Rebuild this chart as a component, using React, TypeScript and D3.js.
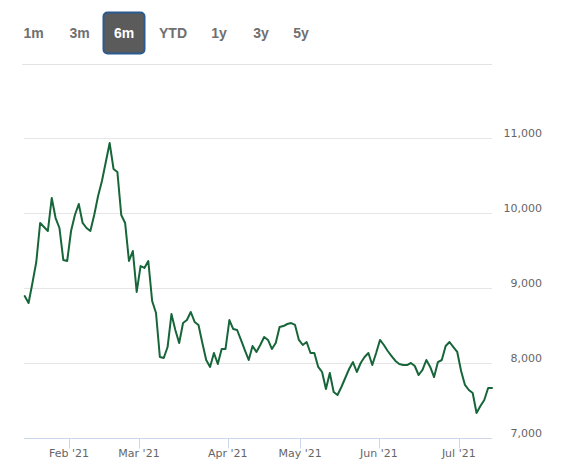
import React from "react";
import * as d3 from "d3";

const values: number[] = [
  8893, 8800, 9067, 9347, 9867, 9813, 9760, 10200, 9933, 9800,
  9373, 9360, 9760, 9973, 10120, 9867, 9800, 9760, 9973, 10227,
  10427, 10680, 10933, 10587, 10547, 9973, 9867, 9360, 9493, 8947,
  9293, 9267, 9360, 8827, 8667, 8080, 8067, 8213, 8653, 8440,
  8267, 8533, 8573, 8680, 8547, 8507, 8267, 8040, 7947, 8133,
  7987, 8187, 8187, 8573, 8453, 8440, 8307, 8173, 8040, 8227,
  8147, 8240, 8347, 8307, 8187, 8267, 8480, 8493, 8520, 8533,
  8507, 8307, 8240, 8280, 8133, 8133, 7947, 7880, 7653, 7867,
  7613, 7573, 7680, 7800, 7920, 8013, 7880, 8000, 8080, 8133,
  7973, 8133, 8307, 8240, 8160, 8093, 8027, 7987, 7973, 7973,
  8000, 7960, 7840, 7907, 8040, 7947, 7813, 8013, 8040, 8227,
  8280, 8213, 8147, 7893, 7707, 7640, 7600, 7333, 7427, 7507,
  7667, 7667,
];

const xTickIndex: number[] = [11.5, 29.6, 52.6, 71.3, 91.7, 112.4];
const xTickLabels: string[] = ["Feb '21", "Mar '21", "Apr '21", "May '21", "Jun '21", "Jul '21"];
const yTicks: number[] = [7000, 8000, 9000, 10000, 11000];
const rangeButtons: string[] = ["1m", "3m", "6m", "YTD", "1y", "3y", "5y"];
const selectedButton = "6m";

const W = 562;
const H = 473;
const plotLeft = 24.7;
const plotRight = 492;
const buttonCenters = [33.5, 79.5, 124, 173, 219, 261, 301];

export default function App() {
  const x = d3.scaleLinear().domain([0, values.length - 1]).range([plotLeft, plotRight]);
  const y = d3.scaleLinear().domain([7000, 11000]).range([438, 138]);
  const line = d3
    .line<number>()
    .x((_, i) => x(i))
    .y((d) => y(d));
  const gridColor = "#e6e6e6";
  const axisColor = "#ccd6eb";
  const labelColor = "#666666";
  const font = "'DejaVu Sans', sans-serif";

  return (
    <svg
      width={W}
      height={H}
      style={{ position: "absolute", left: 0, top: 0, background: "#fff" }}
    >
      <rect x={0} y={0} width={W} height={H} fill="#fff" />
      {rangeButtons.map((b, i) => {
        const cx = buttonCenters[i];
        const sel = b === selectedButton;
        return (
          <g key={b}>
            {sel && (
              <rect
                x={cx - 20.5}
                y={12.5}
                width={41}
                height={41}
                rx={4}
                fill="#5b5b5b"
                stroke="#2a5a92"
                strokeWidth={2}
              />
            )}
            <text
              x={cx}
              y={38}
              textAnchor="middle"
              fontFamily="'Liberation Sans', Arial, sans-serif"
              fontWeight="bold"
              fontSize={14}
              fill={sel ? "#ffffff" : "#6f6f6f"}
            >
              {b}
            </text>
          </g>
        );
      })}
      <line x1={22} x2={492} y1={64.5} y2={64.5} stroke="#e3e3e3" strokeWidth={1} />

      {yTicks.slice(1).map((t) => (
        <line
          key={t}
          x1={plotLeft - 0.7}
          x2={plotRight}
          y1={Math.round(y(t)) + 0.5}
          y2={Math.round(y(t)) + 0.5}
          stroke={gridColor}
          strokeWidth={1}
        />
      ))}
      <line x1={plotLeft - 0.7} x2={plotRight} y1={438.5} y2={438.5} stroke={axisColor} strokeWidth={1} />
      {xTickIndex.map((ti, i) => (
        <g key={xTickLabels[i]}>
          <line
            x1={Math.round(x(ti)) + 0.5}
            x2={Math.round(x(ti)) + 0.5}
            y1={438.5}
            y2={448.5}
            stroke={axisColor}
            strokeWidth={1}
          />
          <text
            x={x(ti)}
            y={457}
            textAnchor="middle"
            fontFamily={font}
            fontSize={11}
            fill={labelColor}
          >
            {xTickLabels[i]}
          </text>
        </g>
      ))}
      {yTicks.map((t) => (
        <text
          key={t}
          x={542}
          y={y(t) - 1.5}
          textAnchor="end"
          fontFamily={font}
          fontSize={11}
          fill={labelColor}
        >
          {d3.format(",")(t)}
        </text>
      ))}
      <path
        d={line(values) || ""}
        fill="none"
        stroke="#17663a"
        strokeWidth={2}
        strokeLinejoin="round"
        strokeLinecap="round"
      />
    </svg>
  );
}
